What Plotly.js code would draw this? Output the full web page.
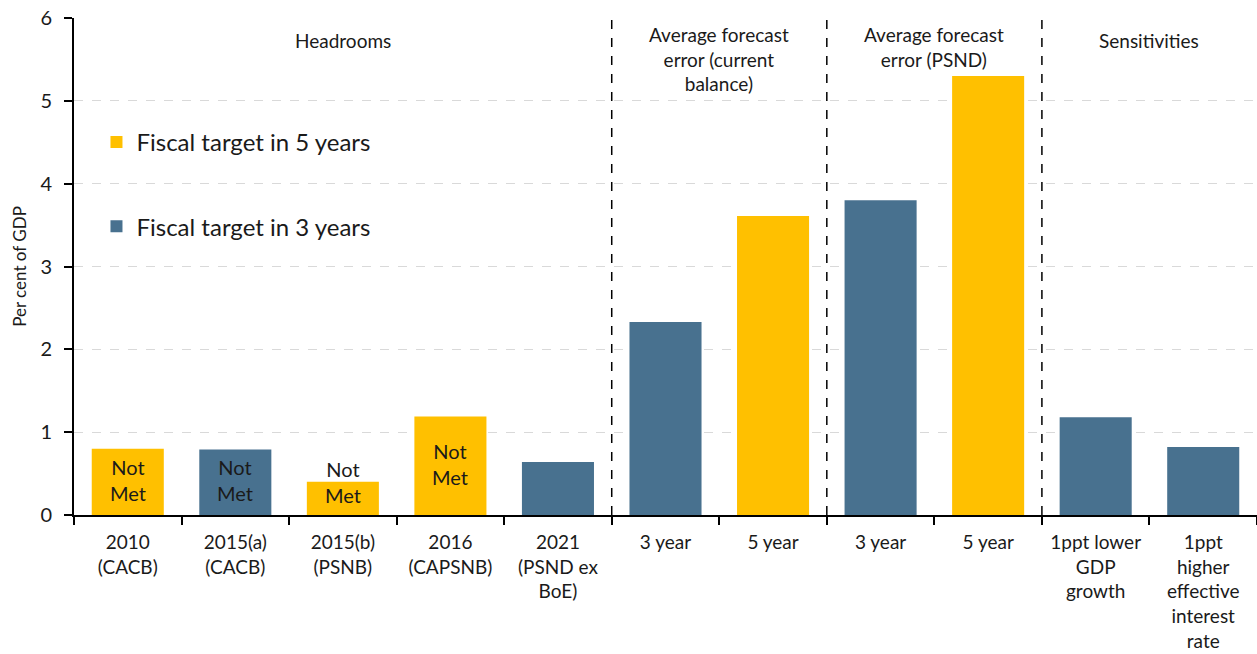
<!DOCTYPE html>
<html>
<head>
<meta charset="utf-8">
<script src="https://cdn.plot.ly/plotly-3.0.1.min.js"></script>
<style>
html,body{margin:0;padding:0;background:#fff;}
#chart{width:1257px;height:654px;}
</style>
</head>
<body>
<div id="chart"></div>
<script>
// ---- data ----
const categories = ["2010 (CACB)", "2015(a) (CACB)", "2015(b) (PSNB)", "2016 (CAPSNB)", "2021 (PSND ex BoE)",
  "Current balance 3 year", "Current balance 5 year", "PSND 3 year", "PSND 5 year",
  "1ppt lower GDP growth", "1ppt higher effective interest rate"];
const tickLabels = ["2010<br>(CACB)", "2015(a)<br>(CACB)", "2015(b)<br>(PSNB)", "2016<br>(CAPSNB)", "2021<br>(PSND ex<br>BoE)",
  "3 year", "5 year", "3 year", "5 year",
  "1ppt lower<br>GDP<br>growth", "1ppt<br>higher<br>effective<br>interest<br>rate"];
const values = [0.80, 0.79, 0.40, 1.19, 0.64, 2.33, 3.61, 3.80, 5.30, 1.18, 0.82];
const targetYears = [5, 3, 5, 5, 3, 3, 5, 3, 5, 3, 3];
const notMet = [true, true, true, true, false, false, false, false, false, false, false];
const groupNames = ["Headrooms", "Average forecast<br>error (current<br>balance)", "Average forecast<br>error (PSND)", "Sensitivities"];
const groupSizes = [5, 2, 2, 2];
const seriesNames = {5: "Fiscal target in 5 years", 3: "Fiscal target in 3 years"};

// ---- style ----
const GOLD = "#FFC000", BLUE = "#48718F";
const FONT = "Lato, 'Open Sans', sans-serif";
const TXT = "#1a1a1a";

function series(years, color, group) {
  return {
    type: "bar",
    name: seriesNames[years],
    legendgroup: group,
    x: categories,
    y: values.map((v, i) => targetYears[i] === years ? v : null),
    marker: {color: color},
    width: 0.67,
    hoverinfo: "x+y"
  };
}
const traces = [series(5, GOLD, "g5"), series(3, BLUE, "g3")];

const shapes = [];
const annotations = [];
let start = 0;
groupSizes.forEach((n, gi) => {
  const center = start + (n - 1) / 2;
  const lines = groupNames[gi].split("<br>").length;
  annotations.push({
    x: center, xref: "x", y: 1, yref: "paper", yanchor: "top",
    yshift: lines > 1 ? -3 : -9,
    text: groupNames[gi], showarrow: false,
    font: {family: FONT, size: 19, color: TXT}
  });
  start += n;
  if (gi < groupSizes.length - 1) {
    shapes.push({type: "line", xref: "x", yref: "paper", x0: start - 0.5, x1: start - 0.5, y0: 0, y1: 1,
      line: {color: "#000", width: 1.5, dash: "dash"}});
  }
});
categories.forEach((c, i) => {
  if (notMet[i]) {
    annotations.push({x: c, xref: "x", y: Math.max(values[i] / 2, 0.37), yref: "y", yshift: 2,
      text: "Not<br>Met", showarrow: false, font: {family: FONT, size: 20, color: TXT}});
  }
});

const layout = {
  width: 1257, height: 654,
  margin: {l: 74, r: 0, t: 18, b: 139},
  paper_bgcolor: "#fff", plot_bgcolor: "#fff",
  barmode: "overlay",
  font: {family: FONT, color: TXT, size: 18},
  showlegend: true,
  legend: {x: 0.019, y: 0.795, xanchor: "left", yanchor: "top", bgcolor: "rgba(0,0,0,0)",
    font: {family: FONT, size: 24, color: TXT}, tracegroupgap: 50, traceorder: "grouped"},
  xaxis: {type: "category", tickmode: "array", tickvals: categories, ticktext: tickLabels,
    tickson: "boundaries", ticks: "outside", ticklen: 8, tickwidth: 2, tickcolor: "#000",
    showline: true, linecolor: "#000", linewidth: 2, showgrid: false,
    range: [-0.5, categories.length - 0.5], tickfont: {family: FONT, size: 19, color: TXT},
    ticklabelstandoff: 9,
    tickangle: 0, fixedrange: true},
  yaxis: {range: [0, 6], dtick: 1, ticks: "outside", ticklen: 8, tickwidth: 2, tickcolor: "#000",
    showline: true, linecolor: "#000", linewidth: 2, zeroline: false,
    showgrid: true, gridcolor: "#d9d9d9", griddash: "dash", gridwidth: 1,
    tickfont: {family: FONT, size: 20, color: TXT}, ticklabelstandoff: 8,
    title: {text: "Per cent of GDP", font: {family: FONT, size: 17, color: TXT}, standoff: 9},
    fixedrange: true},
  shapes: shapes,
  annotations: annotations
};

Plotly.newPlot("chart", traces, layout, {displayModeBar: false, staticPlot: true});
</script>
</body>
</html>
